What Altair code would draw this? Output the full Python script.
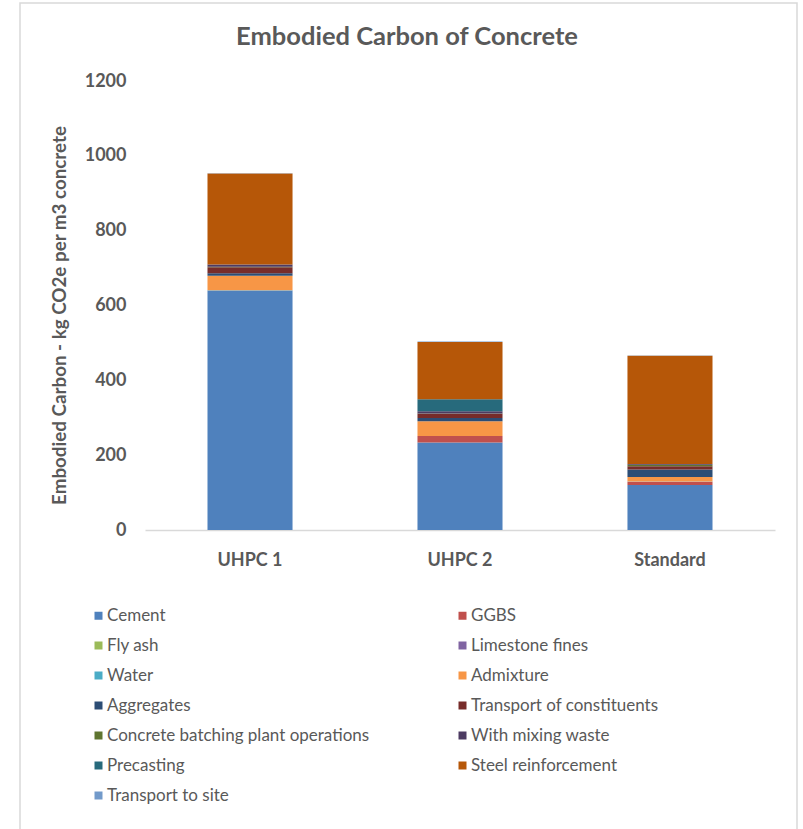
import altair as alt
import pandas as pd

categories = ["UHPC 1", "UHPC 2", "Standard"]
series = ["Cement", "GGBS", "Fly ash", "Limestone fines", "Water", "Admixture",
          "Aggregates", "Transport of constituents", "Concrete batching plant operations",
          "With mixing waste", "Precasting", "Steel reinforcement", "Transport to site"]
colors = ["#4F81BD", "#C0504D", "#9BBB59", "#8064A2", "#4BACC6", "#F79646",
          "#2C4D75", "#772C2A", "#5F7530", "#4D3B62", "#276A7C", "#B65708", "#729ACA"]
title_text = ["Embodied Carbon of Concrete"]

cement = [640, 234, 120]
ggbs = [0, 17, 9]
fly_ash = [0, 0, 0]
limestone = [0, 0, 0]
water = [0.5, 0.5, 0.5]
admixture = [39, 39, 12]
aggregates = [7, 9, 20]
transport_constituents = [16, 11, 9]
batching = [1, 1, 4]
mixing_waste = [6, 6, 2]
precasting = [0, 32, 0]
steel = [243, 153, 289]
transport_site = [1, 1, 1]

values = [cement, ggbs, fly_ash, limestone, water, admixture, aggregates,
          transport_constituents, batching, mixing_waste, precasting, steel, transport_site]

rows = []
for si, (s, vals) in enumerate(zip(series, values)):
    for c, v in zip(categories, vals):
        rows.append({"Category": c, "Component": s, "Value": v, "idx": si})
df = pd.DataFrame(rows)

# legend is filled column-major; reorder so it reads row by row like the reference
legend_order = series[0::2] + series[1::2]
legend_colors = [colors[series.index(s)] for s in legend_order]

FONT = "Lato"
GREY = "#595959"

bars = alt.Chart(df).mark_bar().encode(
    x=alt.X("Category:N", sort=categories,
            scale=alt.Scale(paddingInner=0.595, paddingOuter=0.2976),
            axis=alt.Axis(title=None, labelAngle=0, labelFont=FONT, labelFontSize=18,
                          labelFontWeight="bold", labelColor=GREY, labelPadding=21,
                          ticks=False, domainColor="#D9D9D9", domainWidth=1.5)),
    y=alt.Y("Value:Q", stack="zero",
            scale=alt.Scale(domain=[0, 1200]),
            axis=alt.Axis(title="Embodied Carbon - kg CO2e per m3 concrete",
                          values=[0, 200, 400, 600, 800, 1000, 1200], format="d",
                          grid=False, domain=False, ticks=False,
                          labelFont=FONT, labelFontSize=18, labelFontWeight="bold",
                          labelColor=GREY, labelPadding=19,
                          titleFont=FONT, titleFontSize=18.8, titleFontWeight="bold",
                          titleColor=GREY, titleX=-86, titleY=234,
                          titleBaseline="middle", titleAlign="center", titleAngle=-90)),
    color=alt.Color("Component:N",
                    scale=alt.Scale(domain=legend_order, range=legend_colors),
                    legend=alt.Legend(title=None, orient="none", columns=2,
                                      legendX=-55, legendY=526,
                                      symbolType="square", symbolSize=64,
                                      symbolStrokeWidth=0, labelOffset=0,
                                      labelFont=FONT, labelFontSize=17, labelColor=GREY,
                                      rowPadding=12, columnPadding=84, padding=0,
                                      labelLimit=500)),
    order=alt.Order("idx:Q", sort="ascending"),
)

border = alt.Chart(pd.DataFrame({"a": [0]})).mark_rect(
    fill=None, stroke="#D9D9D9", strokeWidth=1.5
).encode(x=alt.value(-125), x2=alt.value(652), y=alt.value(-78), y2=alt.value(760))

title = alt.Chart(pd.DataFrame({"t": title_text})).mark_text(
    font=FONT, fontSize=25.5, fontWeight="bold", color=GREY,
    align="center", baseline="middle"
).encode(text="t:N", x=alt.value(262), y=alt.value(-44))

chart = alt.layer(border, bars, title).properties(
    width=630, height=449,
    background="white",
    autosize=alt.AutoSizeParams(type="none"),
    padding={"left": 145, "top": 81, "right": 28, "bottom": 299},
).configure_view(stroke=None)

chart.save("out.html", embed_options={"renderer": "svg", "actions": False})
